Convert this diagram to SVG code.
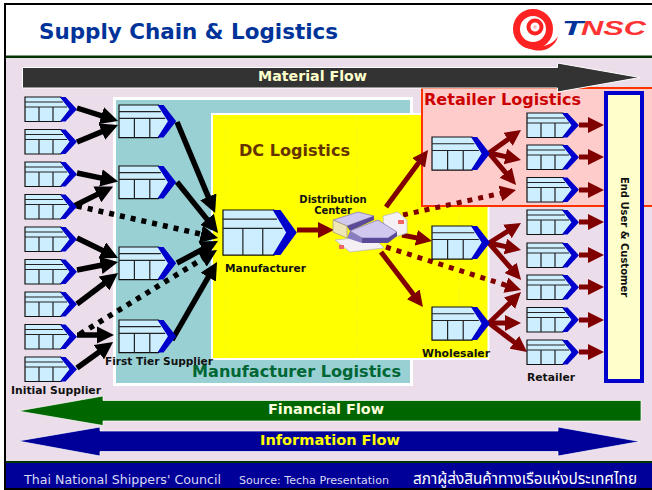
<svg xmlns="http://www.w3.org/2000/svg" xmlns:xlink="http://www.w3.org/1999/xlink" width="652" height="490" viewBox="0 0 652 490">
<style>
text{font-family:"DejaVu Sans","Liberation Sans",sans-serif;font-weight:bold}
.lab{font-size:10px;fill:#111}
.big{font-size:16px}
.flow{font-size:13.500px}
.ic{fill:#cceeff;stroke:#111;stroke-width:1.2;vector-effect:non-scaling-stroke}
.il{fill:none;stroke:#222;stroke-width:1.2;vector-effect:non-scaling-stroke}
.k{fill:none;stroke:#000;stroke-width:5.500}
.r{fill:none;stroke:#800000;stroke-width:5}
.k{marker-end:url(#hk)}
.r{marker-end:url(#hr)}
.d{stroke-dasharray:5 6}
</style>
<defs>
<marker id="hk" markerWidth="3.2" markerHeight="3.2" refX="1" refY="1.6" orient="auto"><path d="M0,0L3.2,1.6L0,3.2z" fill="#000"/></marker>
<marker id="hr" markerWidth="3.2" markerHeight="3.2" refX="0.8" refY="1.6" orient="auto"><path d="M0,0L3.2,1.6L0,3.2z" fill="#800000"/></marker>
<g id="box">
<path class="ic" d="M0,0H36L46,12.2L36,24.5H0z"/>
<path class="il" d="M0,5H38M0,10H42M14,10V24.5M28,10V24.5"/>
<path d="M35,0H40.500L52,12.2L40.500,24.500H35L44.500,12.200z" fill="#0000cc"/>
</g>
</defs>
<rect width="652" height="490" fill="#fff"/>
<rect x="6" y="57" width="646" height="405" fill="#ebdde9"/>
<path d="M4,3H652V5H6V490H4z" fill="#000"/>
<rect x="6" y="55.500" width="646" height="2.500" fill="#003300"/>
<rect x="6" y="461" width="646" height="2" fill="#003300"/>
<rect x="6" y="463" width="646" height="25" fill="#000099"/>
<rect x="4" y="488" width="648" height="2" fill="#000"/>
<text x="39" y="39" font-size="20.500" fill="#003399" textLength="299" lengthAdjust="spacingAndGlyphs">Supply Chain &amp; Logistics</text>
<g id="logo">
<circle cx="533" cy="29" r="16.500" fill="none" stroke="#f22" stroke-width="7"/>
<path d="M517,32C518,47 536,55 549,48C554,45 557,41 558,36C554,43 546,47 538,46C527,45 520,40 517,32z" fill="#f22"/>
<circle cx="535" cy="27" r="6.500" fill="none" stroke="#f22" stroke-width="4"/>
<circle cx="535" cy="27" r="1.800" fill="#fbb"/>
<text x="562" y="35" font-size="20" style="font-family:'Liberation Sans',sans-serif;font-style:italic;font-weight:bold" fill="#003399" textLength="21" lengthAdjust="spacingAndGlyphs">T</text>
<text x="581" y="35" font-size="20" style="font-family:'Liberation Sans',sans-serif;font-style:italic;font-weight:bold" fill="#f33" textLength="65" lengthAdjust="spacingAndGlyphs">NSC</text>
</g>
<g id="manufacturer-logistics">
<rect x="114.500" y="98.500" width="297" height="286" fill="#99d0d4" stroke="#fff" stroke-width="3"/>
<text x="192" y="377" class="big" fill="#006633" textLength="209" lengthAdjust="spacingAndGlyphs">Manufacturer Logistics</text>
</g>
<g id="dc-logistics">
<rect x="212" y="114" width="276.500" height="245" fill="#ff0" stroke="#fff" stroke-width="2"/>
<path d="M226,116V357M357,116V357M459,207V357" stroke="#eded30" stroke-dasharray="1 2" fill="none"/>
<text x="239" y="156" class="big" fill="#663300" textLength="111" lengthAdjust="spacingAndGlyphs">DC Logistics</text>
</g>
<g id="retailer-logistics">
<rect x="422" y="88" width="240" height="118" fill="#fcc" stroke="#f30" stroke-width="2"/>
<text x="424" y="105" class="big" fill="#cc0000" textLength="157" lengthAdjust="spacingAndGlyphs">Retailer Logistics</text>
</g>
<g id="material-flow">
<path d="M22.500,67.500H557.500V63L640,77.500L557.500,92V88H22.500z" fill="#333" stroke="#fff" stroke-width="1"/>
<text x="258" y="81" class="flow" fill="#ffffcc" textLength="109" lengthAdjust="spacingAndGlyphs">Material Flow</text>
</g>
<g id="financial-flow">
<path d="M641,400.500H103V396L18,411L103,425.500V421H641z" fill="#006600" stroke="#fff" stroke-width="0.700"/>
<text x="268" y="414" class="flow" fill="#ffffdd" textLength="116" lengthAdjust="spacingAndGlyphs">Financial Flow</text>
</g>
<g id="information-flow">
<path d="M18,441L100,427V431H558V427L640,441.500L558,456V451.500H100V456z" fill="#000099" stroke="#fff" stroke-width="0.700"/>
<text x="260" y="445" class="flow" fill="#ffff00" textLength="140" lengthAdjust="spacingAndGlyphs">Information Flow</text>
</g>
<g id="end-user">
<rect x="606" y="93" width="36" height="288" fill="#ffffcc" stroke="#0000cc" stroke-width="4"/>
<text transform="translate(621,237) rotate(90)" class="lab" text-anchor="middle" fill="#111">End User &amp; Customer</text>
</g>
<g id="connectors">
<path class="k" d="M77,108L106.600,117.400"/>
<path class="k" d="M77,142L106.900,129.600"/>
<path class="k" d="M77,173L106.300,179.100"/>
<path class="k" d="M72,207L102.300,191.900"/>
<path class="k d" d="M77,206L206.300,235.300"/>
<path class="k" d="M77,238L107.200,252.700"/>
<path class="k" d="M77,270L106.200,264.300"/>
<path class="k" d="M77,304L108.400,280.200"/>
<path class="k" d="M77,335H102"/>
<path class="k" d="M77,368L103.300,349"/>
<path class="k d" d="M80,334L206.800,256.300"/>
<path class="k" d="M177,122L210.400,201.900"/>
<path class="k" d="M177,182L210.500,223.600"/>
<path class="k" d="M177,263L207.400,246.700"/>
<path class="k" d="M172,340L211,272.400"/>
<path class="r" d="M297,230H322"/>
<path class="r" d="M386,207L420.900,159.700"/>
<path class="r d" d="M403,215L504.300,192.600"/>
<path class="r" d="M402,235L420.200,238.600"/>
<path class="r d" d="M386,247L509.600,286.400"/>
<path class="r" d="M381,252L415.700,297.500"/>
<path class="r" d="M489,153L511.300,137"/>
<path class="r" d="M489,153L509.300,157.400"/>
<path class="r" d="M489,153L508.300,175.800"/>
<path class="r" d="M489,243L510.800,229.400"/>
<path class="r" d="M489,243L509.300,247.400"/>
<path class="r" d="M489,243L513.200,270.900"/>
<path class="r" d="M489,323L512.400,300.400"/>
<path class="r" d="M489,323H509"/>
<path class="r" d="M489,323L517.500,344.700"/>
<path class="r" d="M579,125H592"/>
<path class="r" d="M579,157H592"/>
<path class="r" d="M579,190H592"/>
<path class="r" d="M579,222H592"/>
<path class="r" d="M579,255H592"/>
<path class="r" d="M579,287H592"/>
<path class="r" d="M579,320H592"/>
<path class="r" d="M579,352H592"/>
</g>
<g id="s1"><use href="#box" transform="translate(25,97)"/></g>
<g id="s2"><use href="#box" transform="translate(25,129.500)"/></g>
<g id="s3"><use href="#box" transform="translate(25,162)"/></g>
<g id="s4"><use href="#box" transform="translate(25,194.500)"/></g>
<g id="s5"><use href="#box" transform="translate(25,227)"/></g>
<g id="s6"><use href="#box" transform="translate(25,259.500)"/></g>
<g id="s7"><use href="#box" transform="translate(25,292)"/></g>
<g id="s8"><use href="#box" transform="translate(25,324.500)"/></g>
<g id="s9"><use href="#box" transform="translate(25,357)"/><text x="11" y="394" class="lab" textLength="90" lengthAdjust="spacingAndGlyphs">Initial Supplier</text></g>
<g id="t1"><use href="#box" transform="translate(119,105) scale(1.1,1.33)"/></g>
<g id="t2"><use href="#box" transform="translate(119,166) scale(1.1,1.33)"/></g>
<g id="t3"><use href="#box" transform="translate(119,247) scale(1.1,1.33)"/></g>
<g id="t4"><use href="#box" transform="translate(119,320) scale(1.1,1.33)"/><text x="105" y="365" class="lab" textLength="108" lengthAdjust="spacingAndGlyphs">First Tier Supplier</text></g>
<g id="manufacturer"><use href="#box" transform="translate(223,210) scale(1.42,1.84)"/><text x="225" y="272" class="lab" textLength="81" lengthAdjust="spacingAndGlyphs">Manufacturer</text></g>
<g id="distribution-center">
<text x="333" y="203" class="lab" text-anchor="middle">Distribution</text>
<text x="333" y="214" class="lab" text-anchor="middle">Center</text>
<path d="M383,216L398,212L407,220V233L392,238L384,232z" fill="#f4f0f4" stroke="#bbb" stroke-width="0.800"/>
<path d="M335,240L372,236L384,248L350,252z" fill="#f4f0f4" stroke="#bbb" stroke-width="0.800"/>
<rect x="398" y="220" width="6" height="4" fill="#e66"/>
<rect x="339" y="245" width="5" height="4" fill="#e66"/>
<path d="M333,220L358,212L374,216L347,226z" fill="#d0c8ee" stroke="#8a7cc0" stroke-width="0.800"/>
<path d="M333,220L347,226V238L333,232z" fill="#efe6b8" stroke="#aaa080" stroke-width="0.800"/>
<path d="M347,226L374,216V220L350,231z" fill="#5a4a98"/>
<path d="M350,231L378,220L397,232L388,238H362z" fill="#d0c8ee" stroke="#8a7cc0" stroke-width="0.800"/>
<path d="M350,231L362,238V243L347,238z" fill="#8a7cc0"/>
<path d="M362,238H388L397,232V236L388,243H362z" fill="#5a4a98"/>
</g>
<g id="d1"><use href="#box" transform="translate(432,137) scale(1.115,1.35)"/></g>
<g id="d2"><use href="#box" transform="translate(432,226) scale(1.115,1.35)"/></g>
<g id="wholesaler"><use href="#box" transform="translate(432,307) scale(1.115,1.35)"/><text x="422" y="357" class="lab" textLength="68" lengthAdjust="spacingAndGlyphs">Wholesaler</text></g>
<g id="r1"><use href="#box" transform="translate(527,113)"/></g>
<g id="r2"><use href="#box" transform="translate(527,145)"/></g>
<g id="r3"><use href="#box" transform="translate(527,177.500)"/></g>
<g id="r4"><use href="#box" transform="translate(527,210)"/></g>
<g id="r5"><use href="#box" transform="translate(527,243)"/></g>
<g id="r6"><use href="#box" transform="translate(527,275)"/></g>
<g id="r7"><use href="#box" transform="translate(527,307.500)"/></g>
<g id="r8"><use href="#box" transform="translate(527,340)"/><text x="527" y="381" class="lab" textLength="48" lengthAdjust="spacingAndGlyphs">Retailer</text></g>
<g id="footer">
<text x="24" y="484" font-size="12.500" style="font-weight:normal" fill="#d8d8f4" textLength="197" lengthAdjust="spacingAndGlyphs">Thai National Shippers' Council</text>
<text x="239" y="484" font-size="10.500" style="font-weight:normal" fill="#d8d8f4" textLength="150" lengthAdjust="spacingAndGlyphs">Source: Techa Presentation</text>
<text x="413" y="484" font-size="15" style="font-weight:normal;font-family:'Noto Sans Thai','Noto Sans','DejaVu Sans',sans-serif" fill="#fff" textLength="224" lengthAdjust="spacingAndGlyphs">สภาผู้ส่งสินค้าทางเรือแห่งประเทศไทย</text>
</g>
</svg>
